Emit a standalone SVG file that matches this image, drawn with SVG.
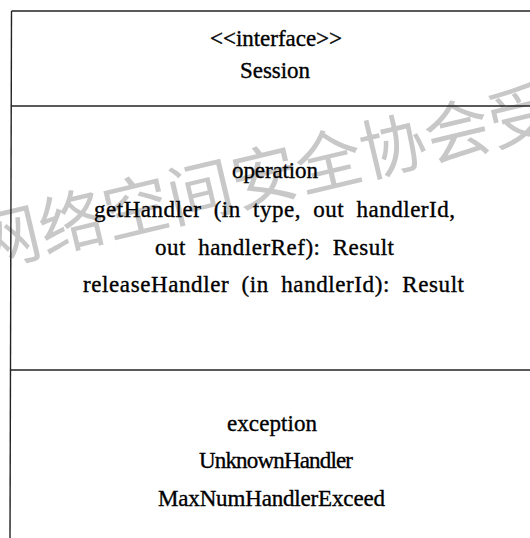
<svg xmlns="http://www.w3.org/2000/svg" width="530" height="538" viewBox="0 0 530 538">
<style>
.t{font-family:'Liberation Serif','Times New Roman',Times,serif;font-size:23px;fill:#000;stroke:#000;stroke-width:0.35;}
.ln{stroke:#222;stroke-width:1.4;fill:none;}
.wm{font-family:'Noto Sans CJK SC',sans-serif;font-size:66px;fill:#c8c8c8;}
</style>
<rect width="530" height="538" fill="#fff"/>
<g id="watermark" transform="translate(-19,269) rotate(-13.4)">
<text class="wm" x="0" y="0">网络空间安全协会受</text>
</g>
<g id="connectors">
<path class="ln" d="M11.5,11 L530,11"/>
<path class="ln" d="M11,106 L530,106"/>
<path class="ln" d="M10,370 L530,370"/>
<path class="ln" d="M11.5,11 L10,538"/>
</g>
<g id="session">
<text class="t" x="210" y="46" textLength="132" lengthAdjust="spacing">&lt;&lt;interface&gt;&gt;</text>
<text class="t" x="240" y="78" textLength="70" lengthAdjust="spacing">Session</text>
</g>
<g id="operations">
<text class="t" x="232" y="178" textLength="86" lengthAdjust="spacing">operation</text>
<text class="t" x="94" y="217" word-spacing="6" textLength="361" lengthAdjust="spacing">getHandler (in type, out handlerId,</text>
<text class="t" x="155" y="255" word-spacing="6" textLength="239" lengthAdjust="spacing">out handlerRef): Result</text>
<text class="t" x="83" y="292" word-spacing="6" textLength="381" lengthAdjust="spacing">releaseHandler (in handlerId): Result</text>
</g>
<g id="exceptions">
<text class="t" x="227" y="431" textLength="90" lengthAdjust="spacing">exception</text>
<text class="t" x="199" y="468" textLength="154" lengthAdjust="spacing">UnknownHandler</text>
<text class="t" x="158" y="506" textLength="227" lengthAdjust="spacing">MaxNumHandlerExceed</text>
</g>
</svg>
